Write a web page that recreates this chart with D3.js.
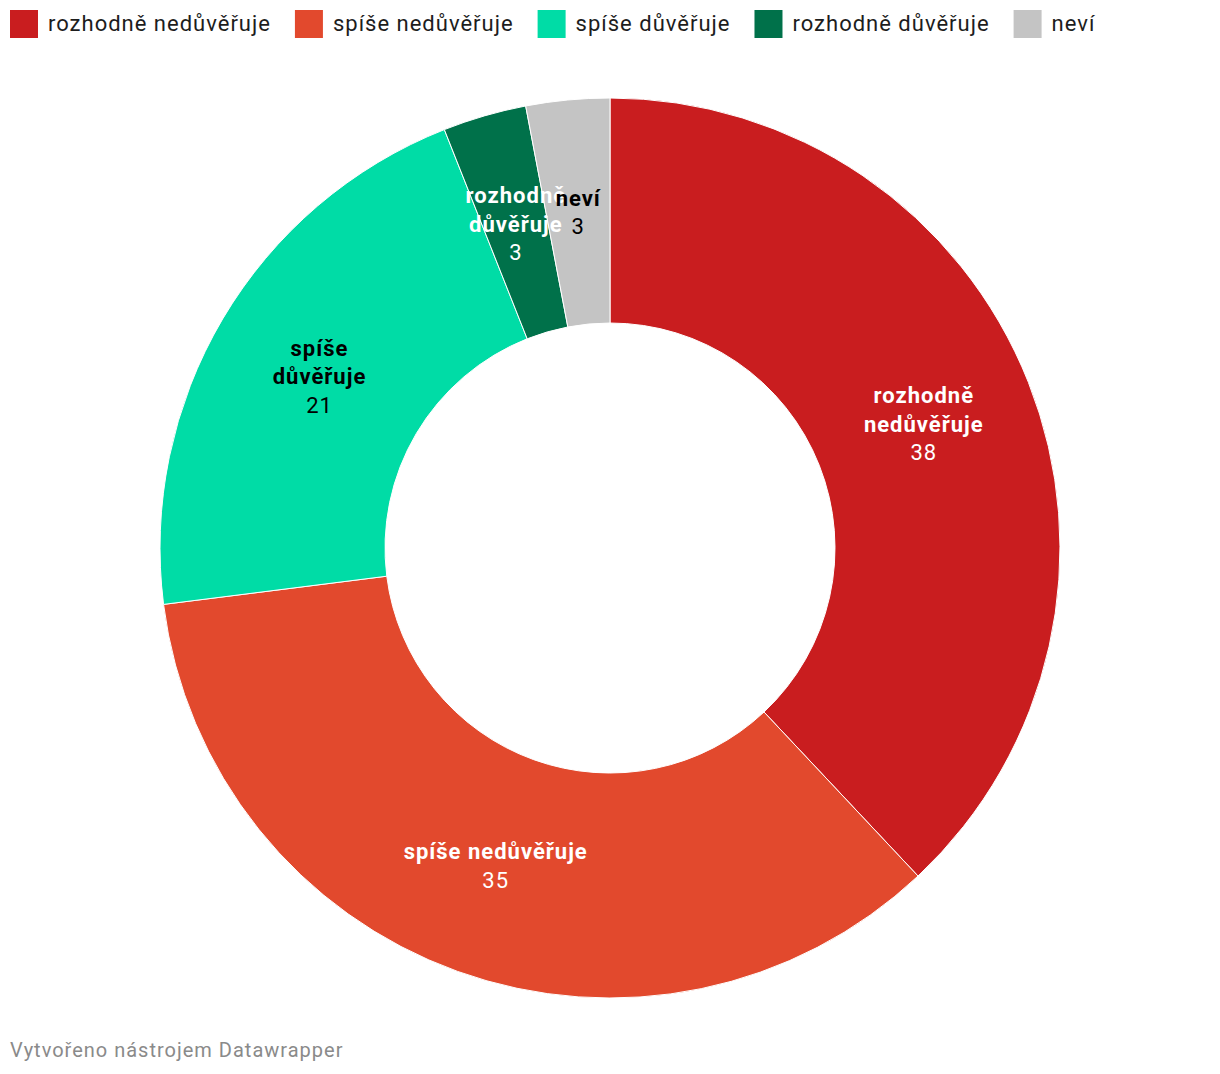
<!DOCTYPE html>
<html><head><meta charset="utf-8">
<script src="https://cdn.jsdelivr.net/npm/d3@7"></script>
<style>
body{margin:0;background:#fff;font-family:Roboto,sans-serif;}
svg{display:block;}
text{letter-spacing:1px;}
</style></head><body>
<svg id="c" width="1220" height="1074"></svg>
<script>
const categories = ["rozhodně nedůvěřuje","spíše nedůvěřuje","spíše důvěřuje","rozhodně důvěřuje","neví"];
const values = [38,35,21,3,3];
const colors = ["#c91d1f","#e2492d","#00dca6","#00714a","#c4c4c4"];
const labelColors = ["#ffffff","#ffffff","#000000","#ffffff","#000000"];
const sliceLabels = [["rozhodně","nedůvěřuje"],["spíše nedůvěřuje"],["spíše","důvěřuje"],["rozhodně","důvěřuje"],["neví"]];
const footer = "Vytvořeno nástrojem Datawrapper";

const svg = d3.select("#c");
const cx = 610, cy = 548, R = 450, r = 225;

// legend
const legend = svg.append("g");
let lx = 10;
categories.forEach((c,i)=>{
  const g = legend.append("g").attr("transform",`translate(${lx},0)`);
  g.append("rect").attr("x",0).attr("y",10).attr("width",28).attr("height",28).attr("fill",colors[i]);
  const t = g.append("text").attr("x",38).attr("y",31).attr("font-size",22).attr("fill","#1d1d1d").text(c);
  const w = t.node().getComputedTextLength();
  lx += 38 + w + 24;
});

const pie = d3.pie().sort(null).value(d=>d)(values);
const arc = d3.arc().innerRadius(r).outerRadius(R);
const labelArc = d3.arc().innerRadius((r+R)/2).outerRadius((r+R)/2);
const g = svg.append("g").attr("transform",`translate(${cx},${cy})`);
g.selectAll("path").data(pie).join("path")
  .attr("d",arc).attr("fill",(d,i)=>colors[i]).attr("stroke","#fff").attr("stroke-width",1);

const lh = 28.5;
pie.forEach((d,i)=>{
  const [x,y] = labelArc.centroid(d);
  const lines = sliceLabels[i].concat([String(values[i])]);
  const n = lines.length;
  const t = g.append("text").attr("text-anchor","middle").attr("font-size",22).attr("fill",labelColors[i]);
  lines.forEach((l,j)=>{
    t.append("tspan").attr("x",x).attr("y", y + (j-(n-1)/2)*lh + 8)
      .attr("font-weight", j<n-1 ? 700 : 400).text(l);
  });
});

svg.append("text").attr("x",10).attr("y",1057).attr("font-size",20).attr("fill","#8a8a8a").text(footer);
</script>
</body></html>
